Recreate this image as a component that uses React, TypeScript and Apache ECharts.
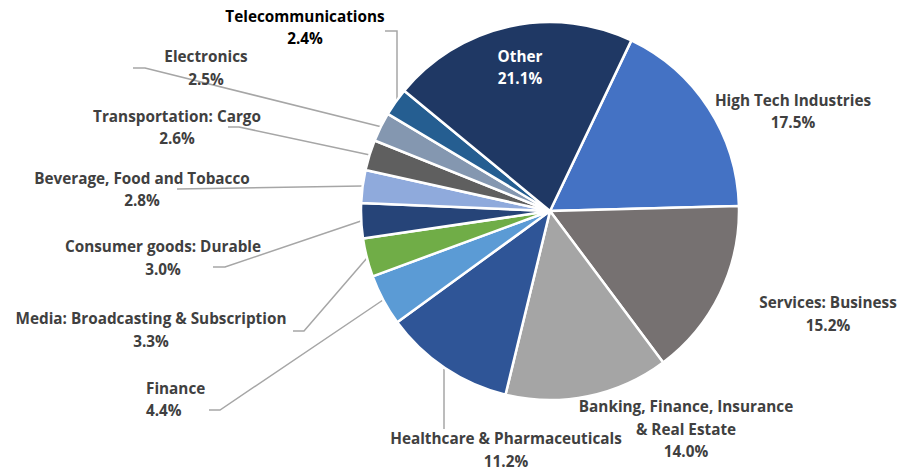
import React, { useEffect, useRef } from "react";
import * as echarts from "echarts";

const categories = [
  "High Tech Industries",
  "Services: Business",
  "Banking, Finance, Insurance\n& Real Estate",
  "Healthcare & Pharmaceuticals",
  "Finance",
  "Media: Broadcasting & Subscription",
  "Consumer goods: Durable",
  "Beverage, Food and Tobacco",
  "Transportation: Cargo",
  "Electronics",
  "Telecommunications",
  "Other",
];
const shares = [17.5, 15.2, 14.0, 11.2, 4.4, 3.3, 3.0, 2.8, 2.6, 2.5, 2.4, 21.1];
const colors = [
  "#4472C4", "#767171", "#A5A5A5", "#2F5597", "#5B9BD5", "#70AD47",
  "#264478", "#8FAADC", "#5F5F5F", "#8497B0", "#255E91", "#1F3864",
];

// label placement (layout only)
const labelPos: { x: number; y: number; align: string; line?: number[][]; color?: string }[] = [
  { x: 793, y: 111, align: "center" },
  { x: 828, y: 313.5, align: "center" },
  { x: 686, y: 428.5, align: "center" },
  { x: 506, y: 449.5, align: "center", line: [[444, 369], [444, 429]] },
  { x: 146, y: 399, align: "left", line: [[383, 300], [220, 410], [209, 410]] },
  { x: 151, y: 329.5, align: "center", line: [[367, 258], [304, 331], [293, 331]] },
  { x: 163, y: 257.5, align: "center", line: [[361, 221], [225, 267], [213, 267]] },
  { x: 142, y: 189, align: "center", line: [[362, 186], [177, 189]] },
  { x: 177, y: 127, align: "center", line: [[370, 155], [239, 127], [228, 127]] },
  { x: 206, y: 67.5, align: "center", line: [[382, 127], [145, 68], [133, 68]] },
  { x: 305, y: 27, align: "center", line: [[397, 110], [397, 31], [385, 31]], color: "#000000" },
  { x: 520, y: 67, align: "center", color: "#FFFFFF" },
];

export default function App() {
  const ref = useRef<HTMLDivElement>(null);
  useEffect(() => {
    if (!ref.current) return;
    const chart = echarts.init(ref.current, null, { renderer: "svg" });
    chart.setOption({
      animation: false,
      backgroundColor: "#FFFFFF",
      series: [
        {
          type: "pie",
          center: [550, 211],
          radius: 189,
          startAngle: 64.5,
          clockwise: true,
          avoidLabelOverlap: false,
          minShowLabelAngle: 0,
          itemStyle: { borderColor: "#FFFFFF", borderWidth: 2.5 },
          label: {
            show: true,
            position: "outside",
            fontFamily: "Open Sans",
            fontWeight: "bold",
            fontSize: 15.3,
            lineHeight: 22.5,
            color: "#404040",
            formatter: (p: any) => `${p.name}\n${Number(p.value).toFixed(1)}%`,
          },
          labelLine: { show: true, lineStyle: { color: "#A6A6A6", width: 1.5 } },
          labelLayout: (params: any) => {
            const lp = labelPos[params.dataIndex];
            const out: any = { x: lp.x, y: lp.y, align: lp.align, verticalAlign: "middle" };
            if (lp.line) out.labelLinePoints = lp.line;
            return out;
          },
          data: categories.map((name, i) => ({
            name,
            value: shares[i],
            itemStyle: { color: colors[i] },
            label: labelPos[i].color ? { color: labelPos[i].color } : undefined,
            labelLine: { show: !!labelPos[i].line },
          })),
        },
      ],
    });
    return () => chart.dispose();
  }, []);
  return (
    <div
      ref={ref}
      style={{ position: "fixed", left: 0, top: 0, width: 910, height: 471 }}
    />
  );
}
